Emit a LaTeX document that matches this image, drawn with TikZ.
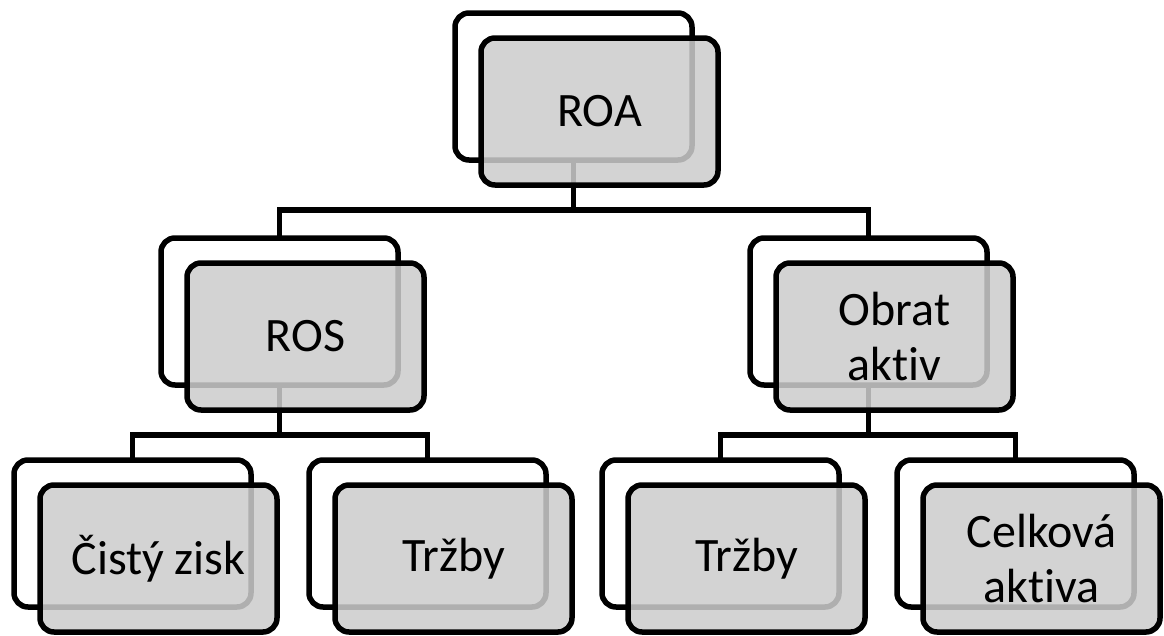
\documentclass[tikz,border=0pt]{standalone}
\usepackage{fontspec}
\setmainfont[Ligatures=NoCommon]{Carlito}
\begin{document}
\begin{tikzpicture}[x=1pt,y=-1pt,
  backbox/.style={draw=black, line width=5.5pt, rounded corners=14pt, fill=white,
    minimum width=237pt, minimum height=147pt, inner sep=0pt, outer sep=0pt,
    anchor=north west},
  frontbox/.style={backbox, fill=black!20, fill opacity=0.86, text opacity=1,
    align=center, font=\fontsize{48}{55}\selectfont},
  link/.style={line width=5.5pt}]
\useasboundingbox (0,0) rectangle (1164,635);

% back frames
\node[backbox] (roaB) at (455,13) {};
\node[backbox] (rosB) at (161,238) {};
\node[backbox] (obrB) at (750,238) {};
\node[backbox] (zisB) at (14,460) {};
\node[backbox] (trlB) at (309,460) {};
\node[backbox] (trrB) at (602,460) {};
\node[backbox] (celB) at (897,460) {};

% bus levels
\coordinate (bus1) at (0,210);
\coordinate (bus2) at (0,435);

% connectors
\draw[link] (roaB.south) -- (roaB.south |- bus1);
\draw[link] (rosB.north) |- (bus1 -| obrB.north) -- (obrB.north);
\draw[link] (rosB.south) -- (rosB.south |- bus2);
\draw[link] (zisB.north) |- (bus2 -| trlB.north) -- (trlB.north);
\draw[link] (obrB.south) -- (obrB.south |- bus2);
\draw[link] (trrB.north) |- (bus2 -| celB.north) -- (celB.north);

% front cards
\node[frontbox] (roa) at (481,38) {ROA};
\node[frontbox] (ros) at (187,263) {ROS};
\node[frontbox] (obr) at (776,263) {Obrat\\aktiv};
\node[frontbox] (zis) at (40,485) {Čistý zisk};
\node[frontbox] (trl) at (335,485) {Tržby};
\node[frontbox] (trr) at (628,485) {Tržby};
\node[frontbox] (cel) at (923,485) {Celková\\aktiva};
\end{tikzpicture}
\end{document}
